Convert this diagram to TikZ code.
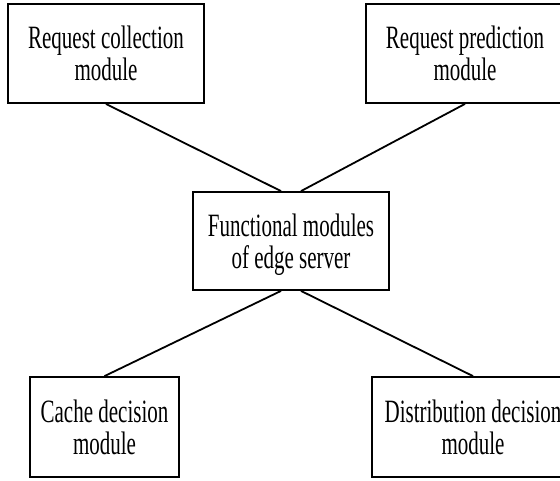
\documentclass[tikz,border=0pt]{standalone}
\usepackage{fontspec}
\setmainfont{Liberation Serif}
\usepackage{graphicx}
% tall, narrow lettering for the box labels, set a little below the box centre
\newcommand{\boxlabel}[2]{\raisebox{-4.5pt}[\height][\depth]{\scalebox{1}[1.55]{\fontsize{21}{20}\selectfont\begin{tabular}{@{}c@{}}#1\\#2\end{tabular}}}}
\begin{document}
\begin{tikzpicture}[x=1pt,y=-1pt,
  modbox/.style={draw, line width=1.8pt, rectangle, inner sep=0pt, align=center},
  link/.style={line width=1.8pt}]
\useasboundingbox (0,0) rectangle (560,480);
\clip (0,0) rectangle (560,480);
\fill[white] (0,0) rectangle (560,480);

\node[modbox, minimum width=196pt, minimum height=99pt] (tl) at (106,53.5)
  {\boxlabel{Request collection}{module}};
\node[modbox, minimum width=198pt, minimum height=99pt] (tr) at (465,53.5)
  {\boxlabel{Request prediction}{module}};
\node[modbox, minimum width=196pt, minimum height=98pt] (c) at (291,241)
  {\boxlabel{Functional modules}{of edge server}};
\node[modbox, minimum width=149pt, minimum height=100pt] (bl) at (104.5,427)
  {\boxlabel{Cache decision}{module}};
\node[modbox, minimum width=202pt, minimum height=100pt] (br) at (473,427)
  {\boxlabel{Distribution decision}{module}};

\draw[link] (tl.south) -- ([xshift=-10pt]c.north);
\draw[link] (tr.south) -- ([xshift=10pt]c.north);
\draw[link] (bl.north) -- ([xshift=-10pt]c.south);
\draw[link] (br.north) -- ([xshift=10pt]c.south);
\end{tikzpicture}
\end{document}
